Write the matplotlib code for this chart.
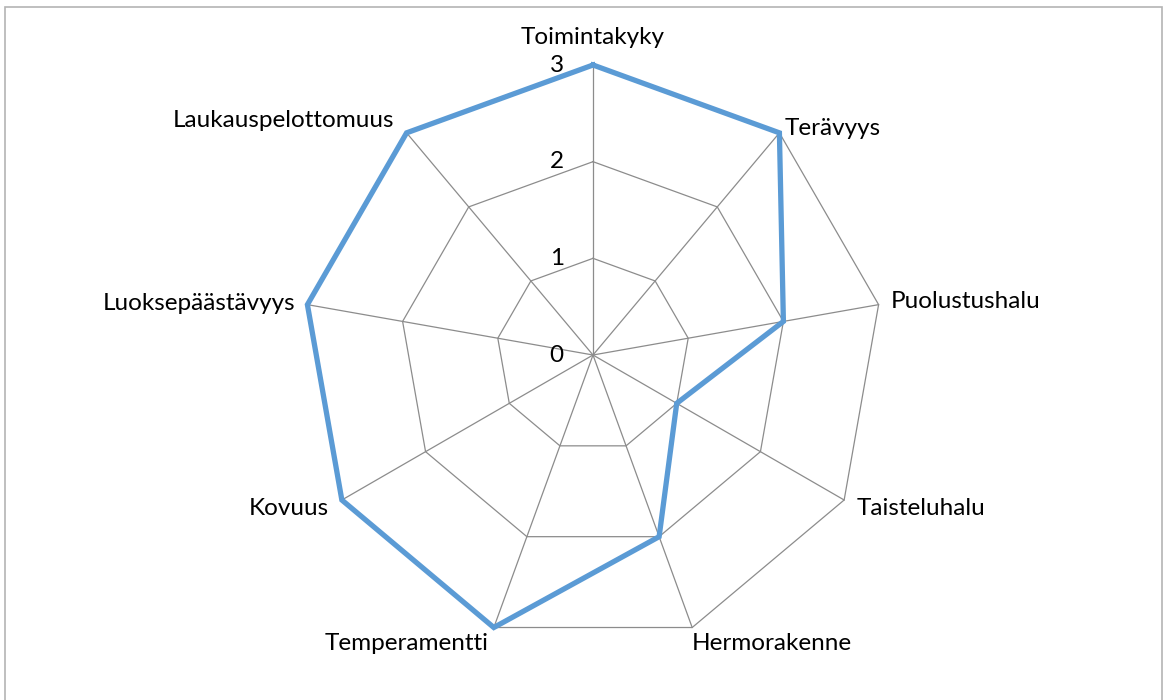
import numpy as np
import matplotlib.pyplot as plt
from matplotlib.patches import Rectangle

# Ominaisuudet ja arvot
labels = ["Toimintakyky", "Terävyys", "Puolustushalu", "Taisteluhalu", "Hermorakenne",
          "Temperamentti", "Kovuus", "Luoksepäästävyys", "Laukauspelottomuus"]
values = [3, 3, 2, 1, 2, 3, 3, 3, 3]
rings = [0, 1, 2, 3]

plt.rcParams['font.family'] = ['Lato', 'DejaVu Sans']

W, H = 1167, 700
cx, cy = 593, 355
unit = 290 / 3

fig = plt.figure(figsize=(W / 100, H / 100), dpi=100)
ax = fig.add_axes([0, 0, 1, 1])
ax.set_xlim(-cx / unit, (W - cx) / unit)
ax.set_ylim(-(H - cy) / unit, cy / unit)
ax.axis('off')

# kehys
fig.patches.append(Rectangle((5 / W, -0.01), (1162 - 5) / W, (H - 7) / H + 0.01,
                             transform=fig.transFigure, fill=False,
                             edgecolor='#b4b4b4', linewidth=1.2))

n = len(labels)
ang = np.deg2rad(90 - 360 / n * np.arange(n))
ux, uy = np.cos(ang), np.sin(ang)

grid = '#8c8c8c'
for r in rings[1:]:
    ax.plot(np.append(ux, ux[0]) * r, np.append(uy, uy[0]) * r, color=grid, lw=0.9)
for i in range(n):
    ax.plot([0, ux[i] * rings[-1]], [0, uy[i] * rings[-1]], color=grid, lw=0.9)

v = np.array(values, dtype=float)
ax.plot(np.append(ux * v, ux[0] * v[0]), np.append(uy * v, uy[0] * v[0]),
        color='#5b9bd5', lw=3.8, solid_joinstyle='miter')

fs = 17.5
for r in rings:
    ax.annotate(str(r), (0, r), xytext=(-21, 0), textcoords='offset points',
                ha='right', va='center', fontsize=fs)

R = rings[-1]
for i, lab in enumerate(labels):
    x, y = ux[i] * R, uy[i] * R
    if abs(ux[i]) < 0.05:
        ha, va, off = 'center', 'bottom', (0, 12)
    elif ux[i] > 0:
        ha, off = 'left', (6, 0)
        va = 'center'
        if uy[i] < -0.9:
            va, off = 'top', (0, -4)
        elif uy[i] < 0:
            off = (9, -6)
        elif uy[i] > 0.5:
            off = (4, 3)
        else:
            off = (9, 2)
    else:
        ha, off = 'right', (-6, 0)
        va = 'center'
        if uy[i] < -0.9:
            va, off = 'top', (-4, -4)
        elif uy[i] < 0:
            off = (-9, -6)
        elif uy[i] > 0.5:
            off = (-9, 9)
        else:
            off = (-9, 1)
    ax.annotate(lab, (x, y), xytext=off, textcoords='offset points',
                ha=ha, va=va, fontsize=fs)

fig.savefig('out.png', dpi=100)
